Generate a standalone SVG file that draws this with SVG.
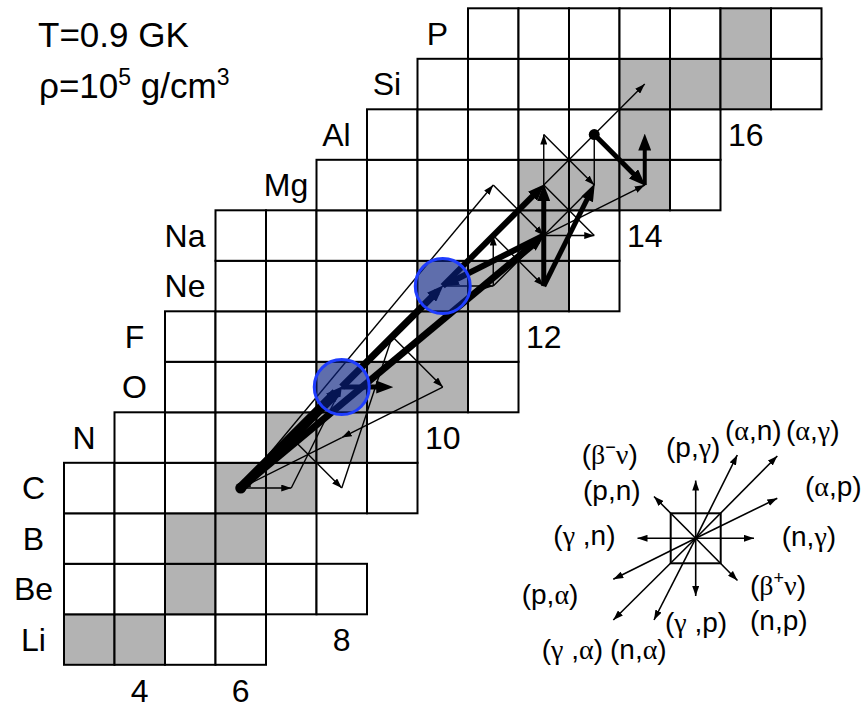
<svg xmlns="http://www.w3.org/2000/svg" width="867" height="712" viewBox="0 0 867 712">
<style>
.w{fill:#fff;stroke:#000;stroke-width:2}
.g{fill:#b3b3b3;stroke:#000;stroke-width:2}
.el{font-family:"Liberation Sans",Arial,sans-serif;font-size:32px;text-anchor:middle;fill:#000}
.t{font-family:"Liberation Sans",Arial,sans-serif;font-size:35px;fill:#000}
.lg{font-family:"Liberation Sans",Arial,sans-serif;font-size:28px;fill:#000}
.gk{font-family:"Liberation Serif","Times New Roman",serif}
.thin{stroke:#000;stroke-width:1.4;fill:none;marker-end:url(#a)}
.thinn{stroke:#000;stroke-width:1.4;fill:none}
.thk{stroke:#000;fill:none;marker-end:url(#b)}
.leg{stroke:#000;stroke-width:1.6;fill:none;marker-end:url(#a)}
.circ{fill:#0b2aa5;fill-opacity:0.5;stroke:#1f3dff;stroke-width:3}
</style>
<defs>
<marker id="a" viewBox="0 0 10 7" refX="10" refY="3.5" markerWidth="10" markerHeight="7" markerUnits="userSpaceOnUse" orient="auto"><path d="M0,0L10,3.5L0,7z"/></marker>
<marker id="b" viewBox="0 0 17 13" refX="8" refY="6.5" markerWidth="17" markerHeight="13" markerUnits="userSpaceOnUse" orient="auto"><path d="M0,0L17,6.5L0,13z"/></marker>
</defs>
<rect width="867" height="712" fill="#fff"/>
<g id="chart">
<rect class="g" x="64" y="614.3" width="50.5" height="50.5"/><rect class="g" x="114.5" y="614.3" width="50.5" height="50.5"/><rect class="w" x="165" y="614.3" width="50.5" height="50.5"/><rect class="w" x="215.5" y="614.3" width="50.5" height="50.5"/>
<rect class="w" x="64" y="563.8" width="50.5" height="50.5"/><rect class="w" x="114.5" y="563.8" width="50.5" height="50.5"/><rect class="g" x="165" y="563.8" width="50.5" height="50.5"/><rect class="w" x="215.5" y="563.8" width="50.5" height="50.5"/><rect class="w" x="266" y="563.8" width="50.5" height="50.5"/><rect class="w" x="316.5" y="563.8" width="50.5" height="50.5"/>
<rect class="w" x="64" y="513.3" width="50.5" height="50.5"/><rect class="w" x="114.5" y="513.3" width="50.5" height="50.5"/><rect class="g" x="165" y="513.3" width="50.5" height="50.5"/><rect class="g" x="215.5" y="513.3" width="50.5" height="50.5"/><rect class="w" x="266" y="513.3" width="50.5" height="50.5"/>
<rect class="w" x="64" y="462.8" width="50.5" height="50.5"/><rect class="w" x="114.5" y="462.8" width="50.5" height="50.5"/><rect class="w" x="165" y="462.8" width="50.5" height="50.5"/><rect class="g" x="215.5" y="462.8" width="50.5" height="50.5"/><rect class="g" x="266" y="462.8" width="50.5" height="50.5"/><rect class="w" x="316.5" y="462.8" width="50.5" height="50.5"/><rect class="w" x="367" y="462.8" width="50.5" height="50.5"/>
<rect class="w" x="114.5" y="412.3" width="50.5" height="50.5"/><rect class="w" x="165" y="412.3" width="50.5" height="50.5"/><rect class="w" x="215.5" y="412.3" width="50.5" height="50.5"/><rect class="g" x="266" y="412.3" width="50.5" height="50.5"/><rect class="g" x="316.5" y="412.3" width="50.5" height="50.5"/><rect class="w" x="367" y="412.3" width="50.5" height="50.5"/>
<rect class="w" x="165" y="361.8" width="50.5" height="50.5"/><rect class="w" x="215.5" y="361.8" width="50.5" height="50.5"/><rect class="w" x="266" y="361.8" width="50.5" height="50.5"/><rect class="g" x="316.5" y="361.8" width="50.5" height="50.5"/><rect class="g" x="367" y="361.8" width="50.5" height="50.5"/><rect class="g" x="417.5" y="361.8" width="50.5" height="50.5"/><rect class="w" x="468" y="361.8" width="50.5" height="50.5"/>
<rect class="w" x="165" y="311.3" width="50.5" height="50.5"/><rect class="w" x="215.5" y="311.3" width="50.5" height="50.5"/><rect class="w" x="266" y="311.3" width="50.5" height="50.5"/><rect class="w" x="316.5" y="311.3" width="50.5" height="50.5"/><rect class="w" x="367" y="311.3" width="50.5" height="50.5"/><rect class="g" x="417.5" y="311.3" width="50.5" height="50.5"/><rect class="w" x="468" y="311.3" width="50.5" height="50.5"/>
<rect class="w" x="215.5" y="260.8" width="50.5" height="50.5"/><rect class="w" x="266" y="260.8" width="50.5" height="50.5"/><rect class="w" x="316.5" y="260.8" width="50.5" height="50.5"/><rect class="w" x="367" y="260.8" width="50.5" height="50.5"/><rect class="g" x="417.5" y="260.8" width="50.5" height="50.5"/><rect class="g" x="468" y="260.8" width="50.5" height="50.5"/><rect class="g" x="518.5" y="260.8" width="50.5" height="50.5"/><rect class="w" x="569" y="260.8" width="50.5" height="50.5"/>
<rect class="w" x="215.5" y="210.3" width="50.5" height="50.5"/><rect class="w" x="266" y="210.3" width="50.5" height="50.5"/><rect class="w" x="316.5" y="210.3" width="50.5" height="50.5"/><rect class="w" x="367" y="210.3" width="50.5" height="50.5"/><rect class="w" x="417.5" y="210.3" width="50.5" height="50.5"/><rect class="w" x="468" y="210.3" width="50.5" height="50.5"/><rect class="g" x="518.5" y="210.3" width="50.5" height="50.5"/><rect class="w" x="569" y="210.3" width="50.5" height="50.5"/>
<rect class="w" x="316.5" y="159.8" width="50.5" height="50.5"/><rect class="w" x="367" y="159.8" width="50.5" height="50.5"/><rect class="w" x="417.5" y="159.8" width="50.5" height="50.5"/><rect class="w" x="468" y="159.8" width="50.5" height="50.5"/><rect class="g" x="518.5" y="159.8" width="50.5" height="50.5"/><rect class="g" x="569" y="159.8" width="50.5" height="50.5"/><rect class="g" x="619.5" y="159.8" width="50.5" height="50.5"/><rect class="w" x="670" y="159.8" width="50.5" height="50.5"/>
<rect class="w" x="367" y="109.3" width="50.5" height="50.5"/><rect class="w" x="417.5" y="109.3" width="50.5" height="50.5"/><rect class="w" x="468" y="109.3" width="50.5" height="50.5"/><rect class="w" x="518.5" y="109.3" width="50.5" height="50.5"/><rect class="w" x="569" y="109.3" width="50.5" height="50.5"/><rect class="g" x="619.5" y="109.3" width="50.5" height="50.5"/><rect class="w" x="670" y="109.3" width="50.5" height="50.5"/>
<rect class="w" x="417.5" y="58.8" width="50.5" height="50.5"/><rect class="w" x="468" y="58.8" width="50.5" height="50.5"/><rect class="w" x="518.5" y="58.8" width="50.5" height="50.5"/><rect class="w" x="569" y="58.8" width="50.5" height="50.5"/><rect class="g" x="619.5" y="58.8" width="50.5" height="50.5"/><rect class="g" x="670" y="58.8" width="50.5" height="50.5"/><rect class="g" x="720.5" y="58.8" width="50.5" height="50.5"/><rect class="w" x="771" y="58.8" width="50.5" height="50.5"/>
<rect class="w" x="468" y="8.3" width="50.5" height="50.5"/><rect class="w" x="518.5" y="8.3" width="50.5" height="50.5"/><rect class="w" x="569" y="8.3" width="50.5" height="50.5"/><rect class="w" x="619.5" y="8.3" width="50.5" height="50.5"/><rect class="w" x="670" y="8.3" width="50.5" height="50.5"/><rect class="g" x="720.5" y="8.3" width="50.5" height="50.5"/><rect class="w" x="771" y="8.3" width="50.5" height="50.5"/>
</g>
<g id="labels">
<text class="el" x="33.5" y="650.5">Li</text>
<text class="el" x="33.5" y="600">Be</text>
<text class="el" x="33.5" y="549.5">B</text>
<text class="el" x="33.5" y="499">C</text>
<text class="el" x="84" y="448.5">N</text>
<text class="el" x="134.5" y="398">O</text>
<text class="el" x="134.5" y="347.5">F</text>
<text class="el" x="185" y="297">Ne</text>
<text class="el" x="185" y="246.5">Na</text>
<text class="el" x="286" y="196">Mg</text>
<text class="el" x="336.5" y="145.5">Al</text>
<text class="el" x="387" y="95">Si</text>
<text class="el" x="437.5" y="44.5">P</text>
<text class="el" x="139.75" y="701.6">4</text>
<text class="el" x="240.75" y="701.6">6</text>
<text class="el" x="341.75" y="650.5">8</text>
<text class="el" x="442.75" y="448.5">10</text>
<text class="el" x="543.75" y="347.5">12</text>
<text class="el" x="644.75" y="246.5">14</text>
<text class="el" x="745.75" y="145.5">16</text>
<text class="t" x="38" y="47">T=0.9 GK</text>
<text class="t" x="39" y="98">ρ=10<tspan font-size="23" dy="-13">5</tspan><tspan dy="13"> g/cm</tspan><tspan font-size="23" dy="-13">3</tspan></text>
</g>
<g id="connectors">
<line class="thin" x1="240.75" y1="488.05" x2="291.25" y2="488.05"/>
<line class="thin" x1="240.75" y1="488.05" x2="493.25" y2="185.05"/>
<line class="thin" x1="291.25" y1="488.05" x2="341.75" y2="387.05"/>
<line class="thin" x1="291.25" y1="437.55" x2="341.75" y2="488.05"/>
<line class="thin" x1="442.75" y1="387.05" x2="341.75" y2="437.55"/>
<line class="thin" x1="341.75" y1="437.55" x2="240.75" y2="488.05"/>
<line class="thinn" x1="341.75" y1="488.05" x2="392.25" y2="336.55"/>
<line class="thin" x1="392.25" y1="336.55" x2="442.75" y2="387.05"/>
<line class="thin" x1="493.25" y1="185.05" x2="543.75" y2="235.55"/>
<line class="thin" x1="442.75" y1="286.05" x2="493.25" y2="286.05"/>
<line class="thin" x1="493.25" y1="286.05" x2="493.25" y2="235.55"/>
<line class="thin" x1="493.25" y1="235.55" x2="543.75" y2="286.05"/>
<line class="thinn" x1="493.25" y1="286.05" x2="594.25" y2="185.05"/>
<line class="thin" x1="543.75" y1="235.55" x2="594.25" y2="235.55"/>
<line class="thinn" x1="543.75" y1="185.05" x2="594.25" y2="235.55"/>
<line class="thin" x1="543.75" y1="185.05" x2="543.75" y2="134.55"/>
<line class="thin" x1="543.75" y1="134.55" x2="594.25" y2="185.05"/>
<line class="thin" x1="543.75" y1="185.05" x2="644.75" y2="84.05"/>
<line class="thinn" x1="594.25" y1="185.05" x2="594.25" y2="134.55"/>
<line class="thin" x1="543.75" y1="235.55" x2="644.75" y2="185.05"/>
<line class="thk" stroke-width="10" x1="240.75" y1="488.05" x2="336.1" y2="392.7"/>
<line class="thk" stroke-width="7" x1="341.75" y1="387.05" x2="437.1" y2="291.7"/>
<line class="thk" stroke-width="7" x1="240.75" y1="488.05" x2="537.6" y2="240.7"/>
<line class="thk" stroke-width="6" x1="543.75" y1="235.55" x2="449.9" y2="282.5"/>
<line class="thk" stroke-width="6" x1="442.75" y1="286.05" x2="538.1" y2="190.7"/>
<line class="thk" stroke-width="5" x1="341.75" y1="387.05" x2="384.25" y2="387.05"/>
<line class="thk" stroke-width="5" x1="543.75" y1="286.05" x2="590.7" y2="192.2"/>
<line class="thk" stroke-width="5" x1="543.75" y1="286.05" x2="543.75" y2="193.05"/>
<line class="thk" stroke-width="5" x1="594.25" y1="134.55" x2="639.1" y2="179.4"/>
<line class="thk" stroke-width="4" x1="644.75" y1="185.05" x2="644.75" y2="142.55"/>
<circle cx="240.75" cy="488.05" r="5.5"/>
<circle cx="594.25" cy="134.55" r="5.5"/>
</g>
<g id="O16"><circle class="circ" cx="341.75" cy="387.05" r="27.5"/></g>
<g id="Ne20"><circle class="circ" cx="442.75" cy="286.05" r="27.5"/></g>
<g id="legend">
<rect x="670.7" y="513.3" width="50" height="50" fill="none" stroke="#000" stroke-width="2"/>
<line class="leg" x1="695.7" y1="538.3" x2="695.7" y2="480.5"/>
<line class="leg" x1="695.7" y1="538.3" x2="695.7" y2="596"/>
<line class="leg" x1="695.7" y1="538.3" x2="637.5" y2="538.3"/>
<line class="leg" x1="695.7" y1="538.3" x2="754" y2="538.3"/>
<line class="leg" x1="695.7" y1="538.3" x2="654" y2="496.5"/>
<line class="leg" x1="695.7" y1="538.3" x2="737.5" y2="580.5"/>
<line class="leg" x1="695.7" y1="538.3" x2="737.3" y2="455"/>
<line class="leg" x1="695.7" y1="538.3" x2="777.3" y2="456"/>
<line class="leg" x1="695.7" y1="538.3" x2="777.3" y2="498.3"/>
<line class="leg" x1="695.7" y1="538.3" x2="654" y2="620"/>
<line class="leg" x1="695.7" y1="538.3" x2="613.3" y2="620"/>
<line class="leg" x1="695.7" y1="538.3" x2="613.3" y2="579.3"/>
<text class="lg" x="725" y="440">(<tspan class="gk">α</tspan>,n)</text>
<text class="lg" x="786" y="440">(<tspan class="gk">α</tspan>,<tspan class="gk">γ</tspan>)</text>
<text class="lg" x="666" y="456.7">(p,<tspan class="gk">γ</tspan>)</text>
<text class="lg" x="581.7" y="464">(<tspan class="gk">β</tspan><tspan font-size="18" dy="-11">−</tspan><tspan class="gk" dy="11">ν</tspan>)</text>
<text class="lg" x="583" y="499.5">(p,n)</text>
<text class="lg" x="805" y="496">(<tspan class="gk">α</tspan>,p)</text>
<text class="lg" x="553.3" y="545">(<tspan class="gk">γ</tspan> ,n)</text>
<text class="lg" x="781.7" y="545.5">(n,<tspan class="gk">γ</tspan>)</text>
<text class="lg" x="750" y="595">(<tspan class="gk">β</tspan><tspan font-size="18" dy="-11">+</tspan><tspan class="gk" dy="11">ν</tspan>)</text>
<text class="lg" x="521.7" y="604">(p,<tspan class="gk">α</tspan>)</text>
<text class="lg" x="665" y="632.3">(<tspan class="gk">γ</tspan> ,p)</text>
<text class="lg" x="750" y="630.3">(n,p)</text>
<text class="lg" x="541.7" y="659">(<tspan class="gk">γ</tspan> ,<tspan class="gk">α</tspan>)</text>
<text class="lg" x="610" y="659">(n,<tspan class="gk">α</tspan>)</text>
</g>
</svg>
